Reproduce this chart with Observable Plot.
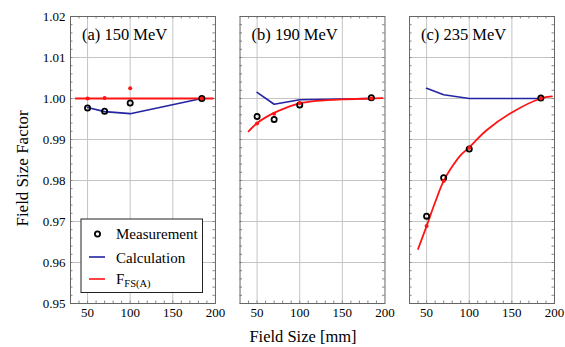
<!DOCTYPE html>
<html><head><meta charset="utf-8">
<script src="https://cdn.jsdelivr.net/npm/d3@7"></script>
<script src="https://cdn.jsdelivr.net/npm/@observablehq/plot@0.6"></script>
<style>
body{margin:0;background:#fff}
#chart{position:relative;width:565px;height:347px}
</style>
</head><body><div id="chart"></div>
<script>
// ---- data ----
const panels = ["(a) 150 MeV", "(b) 190 MeV", "(c) 235 MeV"];
const fieldSizes = [50, 70, 100, 184];
const measurementA = [0.9977, 0.9969, 0.9989, 1.0000];
const measurementB = [0.9956, 0.9949, 0.9984, 1.0002];
const measurementC = [0.9713, 0.9807, 0.9877, 1.0001];
const calculationA = [0.9978, 0.9968, 0.9963, 1.0000];
const calculationB = [1.0015, 0.9986, 0.9997, 1.0000];
const calculationC = [1.0025, 1.0009, 1.0000, 1.0000];
const fitDotsA = [1.0000, 1.0001, 1.0025, 1.0000];
const fitDotsB = [0.9939, 0.9963, 0.9989, 1.0000];
const fitDotsC = [0.9689, 0.9799, 0.9880, 1.0000];
const fitCurveXA = [36, 197];
const fitCurveA = [1.0000, 1.0000];
const fitCurveX = [40, 50, 60, 70, 80, 90, 100, 120, 150, 184, 197];
const fitCurveB = [0.9920, 0.9940, 0.9954, 0.9965, 0.9974, 0.9982, 0.9988, 0.9994, 0.9998, 1.0000, 1.0001];
const fitCurveC = [0.9633, 0.9689, 0.9747, 0.9799, 0.9834, 0.9862, 0.9881, 0.9922, 0.9966, 1.0000, 1.0005];
const xTickValues = [50, 100, 150, 200];
const xGridValues = [50, 100, 150];
const yTickValues = [0.95, 0.96, 0.97, 0.98, 0.99, 1.00, 1.01, 1.02];
const yGridValues = [0.96, 0.97, 0.98, 0.99, 1.00, 1.01];
const xMinorTicks = d3.range(40, 200, 10);
const yMinorTicks = d3.range(0, 36).map(i => 0.95 + i * 0.002);

// ---- tables ----
const measSets = [measurementA, measurementB, measurementC];
const calcSets = [calculationA, calculationB, calculationC];
const dotSets = [fitDotsA, fitDotsB, fitDotsC];
const measured = panels.flatMap((p, i) => fieldSizes.map((x, j) => ({panel: p, x, y: measSets[i][j]})));
const calculated = panels.flatMap((p, i) => fieldSizes.map((x, j) => ({panel: p, x, y: calcSets[i][j]})));
const fitDots = panels.flatMap((p, i) => fieldSizes.map((x, j) => ({panel: p, x, y: dotSets[i][j]})));
const fitCurve = [
  ...fitCurveXA.map((x, j) => ({panel: panels[0], x, y: fitCurveA[j]})),
  ...fitCurveX.map((x, j) => ({panel: panels[1], x, y: fitCurveB[j]})),
  ...fitCurveX.map((x, j) => ({panel: panels[2], x, y: fitCurveC[j]}))
];

const W = 565, H = 347, mL = 70, mR = 11, mT = 16, mB = 44;
const pIn = 0.145;
const bw = (W - mL - mR) / (3 - pIn) * (1 - pIn);
const ph = H - mT - mB;
const serif = "'Liberation Serif', 'Times New Roman', serif";
const tickCol = "#888";

const plot = Plot.plot({
  width: W, height: H,
  marginLeft: mL, marginRight: mR, marginTop: mT, marginBottom: mB,
  style: {fontFamily: serif, fontSize: "13px", color: "#000", background: "#fff"},
  fx: {domain: panels, paddingInner: pIn, paddingOuter: 0, round: false, axis: null},
  x: {domain: [30, 200]},
  y: {domain: [0.95, 1.02]},
  marks: [
    Plot.gridX(xGridValues, {stroke: "#c4c4c4", strokeOpacity: 1}),
    Plot.gridY(yGridValues, {stroke: "#c4c4c4", strokeOpacity: 1}),
    Plot.tickY(yMinorTicks, {y: d => d, stroke: tickCol, insetRight: bw - 2.5}),
    Plot.tickY(yMinorTicks, {y: d => d, stroke: tickCol, insetLeft: bw - 2.5}),
    Plot.tickX(xMinorTicks, {x: d => d, stroke: tickCol, insetTop: ph - 2.5}),
    Plot.tickX(xMinorTicks, {x: d => d, stroke: tickCol, insetBottom: ph - 2.5}),
    Plot.frame({stroke: "#666"}),
    Plot.axisY(yTickValues, {tickFormat: d3.format(".2f"), tickSize: 0, tickPadding: 5, label: null, fontSize: 13}),
    Plot.axisX(xTickValues, {tickSize: 0, tickPadding: 4, label: null, fontSize: 13}),
    Plot.line(calculated, {fx: "panel", x: "x", y: "y", stroke: "#2323a3", strokeWidth: 1.6}),
    Plot.line(fitCurve, {fx: "panel", x: "x", y: "y", stroke: "#ff1414", strokeWidth: 1.8, curve: "catmull-rom"}),
    Plot.dot(measured, {fx: "panel", x: "x", y: "y", r: 2.6, stroke: "#000", strokeWidth: 1.8, fill: "none"}),
    Plot.dot(fitDots, {fx: "panel", x: "x", y: "y", r: 2, fill: "#ff1414", stroke: "none"}),
    Plot.text(panels, {fx: d => d, text: d => d, frameAnchor: "top-left", dx: 11.5, dy: 18, lineAnchor: "middle", textAnchor: "start", fontSize: 16.5, fill: "#000"})
  ]
});
document.getElementById("chart").appendChild(plot);

// ---- axis titles & legend ----
const svg = d3.select(plot);
svg.append("text").attr("x", 303).attr("y", 342).attr("text-anchor", "middle")
  .style("font-family", serif).style("font-size", "16.5px").attr("fill", "#000").text("Field Size [mm]");
svg.append("text").attr("transform", "translate(27.5,168.5) rotate(-90)").attr("text-anchor", "middle")
  .style("font-family", serif).style("font-size", "17px").attr("fill", "#000").text("Field Size Factor");

const lg = svg.append("g").attr("text-anchor", "start").style("font-family", serif).style("font-size", "15px").attr("fill", "#000");
lg.append("rect").attr("x", 81).attr("y", 219).attr("width", 121.5).attr("height", 73.5)
  .attr("fill", "#fff").attr("stroke", "#222").attr("stroke-width", 1);
lg.append("circle").attr("cx", 97.5).attr("cy", 234).attr("r", 2.6).attr("fill", "none").attr("stroke", "#000").attr("stroke-width", 1.8);
lg.append("text").attr("x", 116).attr("y", 238.5).attr("text-anchor", "start").text("Measurement");
lg.append("line").attr("x1", 89).attr("x2", 105).attr("y1", 257).attr("y2", 257).attr("stroke", "#2323a3").attr("stroke-width", 1.6);
lg.append("text").attr("x", 116).attr("y", 262.5).attr("text-anchor", "start").text("Calculation");
lg.append("line").attr("x1", 89).attr("x2", 105).attr("y1", 279).attr("y2", 279).attr("stroke", "#ff1414").attr("stroke-width", 1.6);
const ft = lg.append("text").attr("x", 116).attr("y", 284).attr("text-anchor", "start");
ft.append("tspan").text("F");
ft.append("tspan").attr("dy", 2.5).style("font-size", "10.5px").text("FS(A)");
</script>
</body></html>
